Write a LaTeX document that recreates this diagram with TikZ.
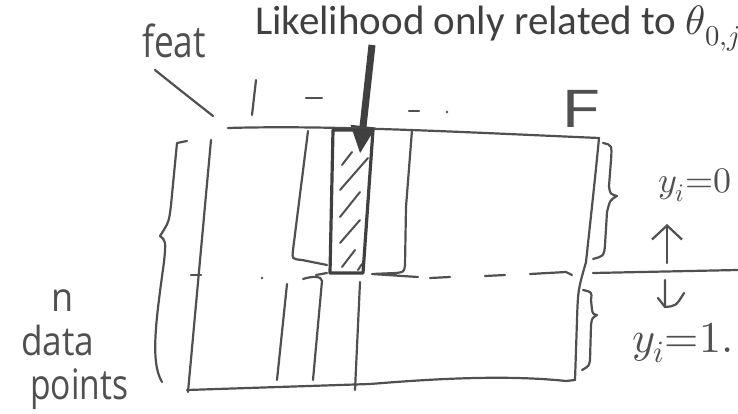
\documentclass[tikz,border=0pt]{standalone}
\usepackage{fontspec}
\usepackage{unicode-math}
\setmainfont{Carlito}
\setmathfont{Latin Modern Math}
\newfontfamily\hand{Open Sans}
\usetikzlibrary{arrows.meta}
\definecolor{ink}{HTML}{505050}
\definecolor{titlec}{HTML}{404040}
\begin{document}
\begin{tikzpicture}[x=1pt,y=-1pt,
  hw/.style={draw=ink,line width=2.2pt,line cap=round,line join=round},
  hwt/.style={text=ink,inner sep=0pt,font=\hand},
  barb/.style={-{Straight Barb[length=14pt,width=30pt,line width=2.2pt]}}]
\useasboundingbox (0,0) rectangle (738,414);
\fill[white] (0,0) rectangle (738,414);

% title and arrow
\node[anchor=base west,text=titlec,inner sep=0pt,font=\fontsize{41}{44}\selectfont] (title) at (255,35) {Likelihood only related to $\theta_{0,j}$};
\coordinate (arrs) at (372,45);
\coordinate (arre) at (360,154);
\draw[line width=7pt,draw=titlec,-{Triangle[length=28pt,width=23pt]}] (arrs) -- (arre);

% handwritten labels
\node[hwt,anchor=base west,font=\hand\fontsize{44}{44}\selectfont,xscale=0.8] (feat) at (142,58) {feat};
\coordinate (featA) at (155,70);
\coordinate (featB) at (213,116);
\draw[hw] (featA) .. controls (180,90) .. (featB);
\draw[hw] (256,80) -- (252,115);
\draw[hw] (306,98) -- (322,98);
\draw[hw] (409,111) -- (419,111);
\fill[ink] (447,112) circle (1.3pt);
\node[hwt,anchor=base west,font=\hand\fontsize{52}{52}\selectfont,xscale=1.45] (F) at (560,128) {F};

\node[hwt,anchor=base west,font=\hand\fontsize{40}{40}\selectfont,xscale=0.9] (n) at (51,311) {n};
\node[hwt,anchor=base west,font=\hand\fontsize{40}{40}\selectfont,xscale=0.88] (data) at (21,355) {data};
\node[hwt,anchor=base west,font=\hand\fontsize{42}{42}\selectfont,xscale=0.8] (points) at (30,399) {points};

% main matrix outline
\draw[hw] (228,128) .. controls (330,125) and (460,132) .. (599,138);
\draw[hw] (599,138) .. controls (596,170) and (590,225) .. (586,262) .. controls (578,290) .. (577,320) -- (575,380);
\draw[hw] (575,380) -- (566,381) .. controls (500,374) and (420,380) .. (370,384) -- (187,390);
\draw[hw] (211,140) -- (188,392);

% left brace
\draw[hw] (187,141) -- (177,143) -- (171,205) .. controls (169,222) .. (160,236) .. controls (166,241) .. (164,262) .. controls (156,320) and (150,362) .. (162,382);

% upper columns
\draw[hw] (308,131) -- (293,250) .. controls (292,259) .. (302,260) -- (327,265);
\draw[hw] (412,130) -- (406,207) -- (405,265) .. controls (404,272) .. (396,273) -- (372,274) -- (418,277);

% hatched column
\node[inner sep=0pt,minimum size=0pt] (hatch) at (350,200) {};
\draw[hw,line width=2pt] (342,165) -- (352,152);
\draw[hw,line width=2pt] (340,190) -- (368,158);
\draw[hw,line width=2pt] (340,217) -- (360,192);
\draw[hw,line width=2pt] (340,243) -- (360,220);
\draw[hw,line width=2pt] (342,267) -- (355,250);
\draw[hw,line width=2pt] (358,270) -- (362,264);
\draw[draw=titlec,line width=3.2pt,line join=round] (333,130) -- (373,130) -- (363,273) -- (330,273) -- cycle;
\draw[hw] (316,275) -- (327,273);

% dashed separator
\draw[hw] (191,275) -- (201,275);
\fill[ink] (262,278) circle (1.3pt);
\draw[hw] (430,278) -- (450,277);
\draw[hw] (485,276) -- (505,275);
\draw[hw] (530,274) -- (566,272) -- (572,275);
\coordinate (sepA) at (593,273);
\coordinate (sepB) at (738,270);
\draw[hw] (sepA) -- (sepB);

% lower columns
\draw[hw] (287,284) -- (277,380);
\draw[hw] (303,279) .. controls (312,276) and (322,276) .. (322,281) -- (313,380);
\draw[hw] (360,282) -- (355,390);

% right braces
\draw[hw] (603,143) .. controls (612,145) .. (611,160) -- (609,186) .. controls (610,194) .. (617,196) .. controls (610,200) .. (607,212) -- (605,245) .. controls (604,256) .. (593,259);
\draw[hw] (583,290) .. controls (592,292) .. (591,300) -- (592,310) .. controls (593,314) .. (597,315) .. controls (592,318) .. (591,325) -- (590,360) .. controls (589,366) .. (582,370);

% y labels and arrows
\node[hwt,anchor=base west,font=\fontsize{36}{36}\selectfont] (y0) at (658,193) {$y_i{=}0$};
\node[hwt,anchor=base west,font=\fontsize{44}{44}\selectfont] (y1) at (632,352) {$y_i{=}1.$};
\coordinate (upA) at (667,263);
\coordinate (upB) at (667,224);
\draw[hw,barb] (upA) -- (upB);
\coordinate (dnA) at (665,280);
\coordinate (dnB) at (665,307);
\draw[hw] (dnA) -- (dnB) .. controls (676,306) .. (684,293);
\draw[hw] (658,298) .. controls (661,303) .. (665,307);
\end{tikzpicture}
\end{document}
